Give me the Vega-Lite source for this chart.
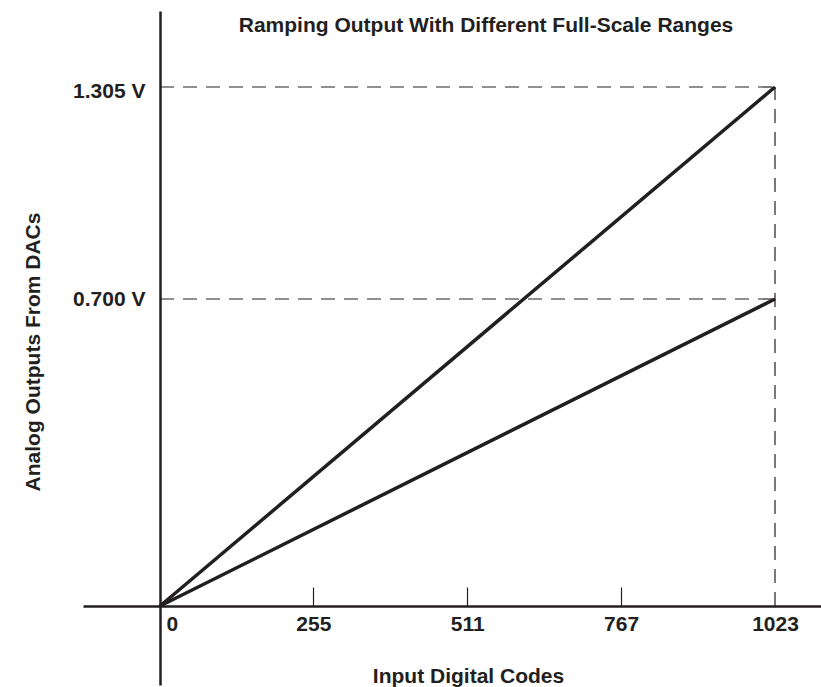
{
  "$schema": "https://vega.github.io/schema/vega-lite/v6.json",
  "width": 738,
  "height": 674,
  "autosize": {"type": "none"},
  "padding": {"left": 83, "top": 11, "right": 0, "bottom": 2},
  "background": "white",
  "config": {
    "view": {"stroke": null},
    "font": "Liberation Sans"
  },
  "title": {
    "text": "Ramping Output With Different Full-Scale Ranges",
    "font": "Liberation Sans",
    "fontSize": 21,
    "fontWeight": "bold",
    "color": "#231f20",
    "anchor": "middle",
    "frame": "group",
    "baseline": "alphabetic",
    "dx": 34,
    "offset": -42
  },
  "datasets": {
    "ramps": [
      {"code": 0, "v": 0, "range": "1.305 V"},
      {"code": 1023, "v": 1.305, "range": "1.305 V"},
      {"code": 0, "v": 0, "range": "0.700 V"},
      {"code": 1023, "v": 0.7, "range": "0.700 V"}
    ],
    "hrefs": [
      {"code": 0, "code2": 1023, "v": 1.305},
      {"code": 0, "code2": 1023, "v": 0.7}
    ],
    "vrefs": [
      {"code": 1023, "v": 0, "v2": 1.305}
    ]
  },
  "encoding": {
    "x": {
      "field": "code",
      "type": "quantitative",
      "scale": {"domain": [-128.1, 1099.5], "nice": false, "zero": false},
      "axis": {
        "values": [0, 255, 511, 767, 1023],
        "format": "d",
        "title": "Input Digital Codes",
        "offset": -79,
        "grid": false,
        "domainColor": "#231f20",
        "domainWidth": 2.5,
        "tickColor": "#231f20",
        "tickWidth": 1.2,
        "tickSize": -19,
        "tickOpacity": {"condition": {"test": "datum.value == 0 || datum.value == 1023", "value": 0}, "value": 1},
        "labelFont": "Liberation Sans",
        "labelFontSize": 21,
        "labelFontWeight": "bold",
        "labelColor": "#231f20",
        "labelPadding": 26,
        "labelFlush": false,
        "labelOverlap": false,
        "labelAlign": {"condition": {"test": "datum.value == 0", "value": "left"}, "value": "center"},
        "labelOffset": {"condition": {"test": "datum.value == 0", "value": 6}, "value": 0},
        "titleFont": "Liberation Sans",
        "titleFontSize": 21,
        "titleFontWeight": "bold",
        "titleColor": "#231f20",
        "titleX": 385,
        "titleY": 70,
        "titleAlign": "center",
        "titleBaseline": "middle"
      }
    },
    "y": {
      "field": "v",
      "type": "quantitative",
      "scale": {
        "domain": [-0.1801, 0, 0.7, 1.305, 1.5219],
        "range": [674, 595, 288, 76, 0],
        "nice": false,
        "zero": false
      },
      "axis": {
        "values": [0.7, 1.305],
        "labelExpr": "format(datum.value, '.3f') + ' V'",
        "title": "Analog Outputs From DACs",
        "offset": -77,
        "grid": false,
        "domainColor": "#231f20",
        "domainWidth": 2.5,
        "tickSize": 0,
        "labelFont": "Liberation Sans",
        "labelFontSize": 21,
        "labelFontWeight": "bold",
        "labelColor": "#231f20",
        "labelPadding": 15,
        "labelOffset": {"condition": {"test": "datum.value > 1", "value": 4}, "value": 0},
        "titleFont": "Liberation Sans",
        "titleFontSize": 21,
        "titleFontWeight": "bold",
        "titleColor": "#231f20",
        "titleAngle": -90,
        "titleX": -127,
        "titleY": 340.5,
        "titleAlign": "center",
        "titleBaseline": "middle"
      }
    }
  },
  "layer": [
    {
      "data": {"name": "hrefs"},
      "mark": {"type": "rule", "color": "#231f20", "strokeWidth": 1.2, "strokeDash": [14, 9]},
      "encoding": {"x2": {"field": "code2"}}
    },
    {
      "data": {"name": "vrefs"},
      "mark": {"type": "rule", "color": "#231f20", "strokeWidth": 1.2, "strokeDash": [14, 9]},
      "encoding": {"y2": {"field": "v2"}}
    },
    {
      "data": {"name": "ramps"},
      "mark": {"type": "line", "color": "#231f20", "strokeWidth": 3.5},
      "encoding": {"detail": {"field": "range"}}
    }
  ]
}
